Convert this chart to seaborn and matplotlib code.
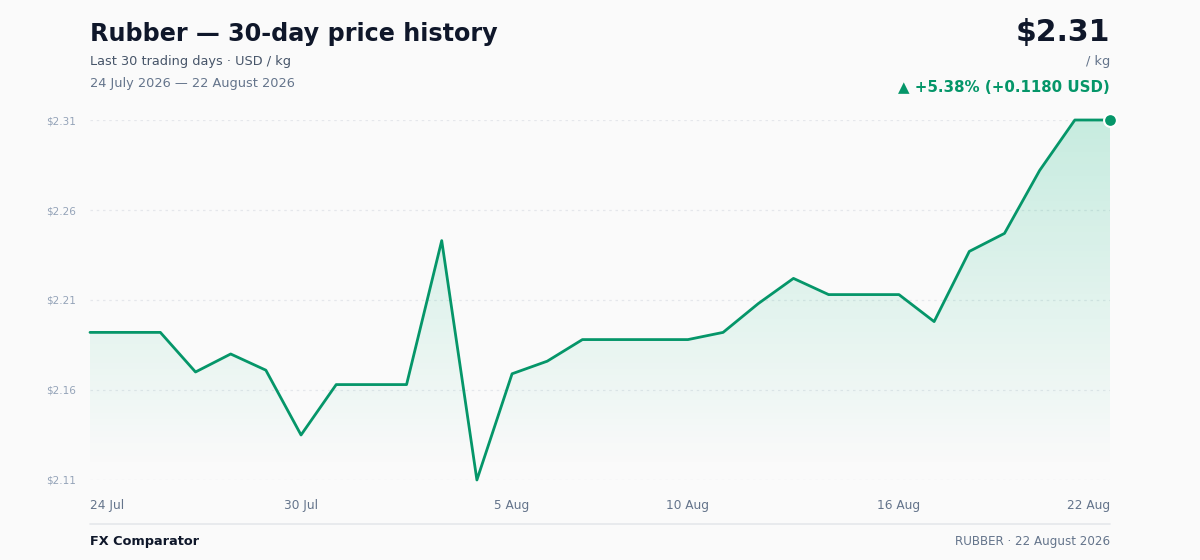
import numpy as np
import pandas as pd
import seaborn as sns
import matplotlib.pyplot as plt
from matplotlib.colors import LinearSegmentedColormap
from matplotlib.patches import Polygon

# data
dates = pd.date_range("2026-07-24", "2026-08-22", freq="D")
prices = [2.192, 2.192, 2.192, 2.170, 2.180, 2.171, 2.135, 2.163, 2.163, 2.163,
          2.243, 2.110, 2.169, 2.176, 2.188, 2.188, 2.188, 2.188, 2.192, 2.208,
          2.222, 2.213, 2.213, 2.213, 2.198, 2.237, 2.247, 2.282, 2.310, 2.310]
tick_dates = ["2026-07-24", "2026-07-30", "2026-08-05", "2026-08-10", "2026-08-16", "2026-08-22"]
tick_labels = ["24 Jul", "30 Jul", "5 Aug", "10 Aug", "16 Aug", "22 Aug"]

df = pd.DataFrame({"date": dates, "price": prices})

GREEN = "#059669"
BG = "#fafafa"

sns.set_theme(style="white")
plt.rcParams["font.family"] = ["DejaVu Sans"]

fig = plt.figure(figsize=(12, 5.6), dpi=100, facecolor=BG)
ax = fig.add_axes([0.075, 0.1429, 0.85, 0.6428])
ax.set_facecolor(BG)

ymin, ymax = min(prices), max(prices)
ax.set_xlim(dates[0], dates[-1])
ax.set_ylim(ymin, ymax)

# gradient fill under the line
xnum = np.asarray(ax.xaxis.convert_units(df["date"]), dtype=float)
verts = [(xnum[0], ymin)] + list(zip(xnum, prices)) + [(xnum[-1], ymin)]
poly = Polygon(verts, closed=True, facecolor="none", edgecolor="none")
ax.add_patch(poly)
cmap = LinearSegmentedColormap.from_list("g", [(0.063, 0.725, 0.506, 0.0), (0.063, 0.725, 0.506, 0.22)])
grad = np.linspace(0, 1, 256).reshape(-1, 1)
img = ax.imshow(grad, cmap=cmap, aspect="auto", origin="lower",
                extent=[xnum[0], xnum[-1], ymin + 0.006, ymax], zorder=1)
img.set_clip_path(poly)

sns.lineplot(data=df, x="date", y="price", ax=ax, color=GREEN, linewidth=2, zorder=3, clip_on=False)
ax.scatter([dates[-1]], [prices[-1]], s=85, color=GREEN, edgecolor="white", linewidth=1.5, zorder=4, clip_on=False)
ax.set_xlim(dates[0], dates[-1])
ax.set_ylim(ymin, ymax)

yticks = np.linspace(ymin, ymax, 5)
ax.set_yticks(yticks)
ax.set_yticklabels([f"${v:.2f}" for v in yticks], color="#94a3b8", fontsize=7.5)
ax.set_xticks(pd.to_datetime(tick_dates))
ax.set_xticklabels(tick_labels, color="#64748b", fontsize=8.7)
xl = ax.get_xticklabels()
xl[0].set_ha("left")
xl[-1].set_ha("right")
ax.tick_params(axis="both", length=0)
ax.tick_params(axis="x", pad=14)
ax.tick_params(axis="y", pad=10)
for v in yticks:
    ax.axhline(v, color="#e5e7eb", linewidth=0.9, linestyle=(0, (2, 3)), zorder=0)
for s in ax.spines.values():
    s.set_visible(False)
ax.set_xlabel("")
ax.set_ylabel("")

# header
fig.text(90 / 1200, 1 - 34 / 560, "Rubber — 30-day price history", fontsize=17.2, fontweight="bold",
         color="#0f172a", va="center", ha="left")
fig.text(90 / 1200, 1 - 61 / 560, "Last 30 trading days · USD / kg", fontsize=9.3,
         color="#475569", va="center", ha="left")
fig.text(90 / 1200, 1 - 83 / 560, "24 July 2026 — 22 August 2026", fontsize=9.3,
         color="#64748b", va="center", ha="left")

fig.text(1110 / 1200, 1 - 32 / 560, "$2.31", fontsize=21.5, fontweight="bold",
         color="#0f172a", va="center", ha="right")
fig.text(1110 / 1200, 1 - 61 / 560, "/ kg", fontsize=9.3, color="#64748b", va="center", ha="right")
fig.text(1110 / 1200, 1 - 87 / 560, "▲ +5.38% (+0.1180 USD)", fontsize=10.85, fontweight="bold",
         color=GREEN, va="center", ha="right")

# footer
fig.add_artist(plt.Line2D([90 / 1200, 1110 / 1200], [1 - 524 / 560, 1 - 524 / 560],
                          color="#e5e7eb", linewidth=1.2))
fig.text(90 / 1200, 1 - 542 / 560, "FX Comparator", fontsize=9.25, fontweight="bold",
         color="#0f172a", va="center", ha="left")
fig.text(1110 / 1200, 1 - 542 / 560, "RUBBER · 22 August 2026", fontsize=8.6,
         color="#64748b", va="center", ha="right")

fig.savefig("out.png", dpi=100, facecolor=BG)
